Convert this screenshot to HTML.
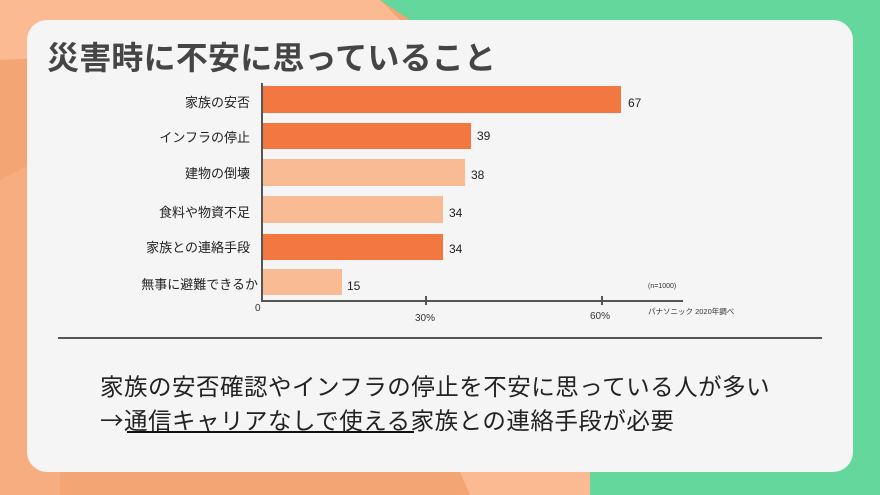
<!DOCTYPE html>
<html><head><meta charset="utf-8"><style>
html,body{margin:0;padding:0}
body{width:880px;height:495px;position:relative;overflow:hidden;font-family:"Liberation Sans","Noto Sans CJK JP",sans-serif;background:#f4a574}
.a{position:absolute;white-space:nowrap}
.lab{position:absolute;right:630px;font-size:13px;color:#222;text-align:right}
.bar{position:absolute;left:263px}
.v{position:absolute;font-size:12px;color:#222}
</style></head><body>
<svg class="a" style="left:0;top:0" width="880" height="495">
<polygon points="0,0 380,0 420,40 0,60" fill="#fbba91"/>
<polygon points="0,180 60,150 60,495 0,495" fill="#f6ad80"/>
<polygon points="380,0 880,0 880,495 590,495 590,470 410,20" fill="#63d79c"/>
<polygon points="460,472 590,472 590,495 470,495" fill="#fbba91"/>
</svg>
<div class="a" style="left:27px;top:20px;width:826px;height:452px;background:#f5f5f5;border-radius:20px"></div>
<div class="a" style="left:47px;top:33px;font-size:32px;letter-spacing:0.2px;font-weight:bold;color:#454545">災害時に不安に思っていること</div>
<div class="a" style="left:261px;top:83px;width:2px;height:219px;background:#555"></div>
<div class="a" style="left:261px;top:300px;width:422px;height:2px;background:#555"></div>
<div class="a" style="left:425px;top:296px;width:2px;height:9px;background:#555"></div>
<div class="a" style="left:601px;top:296px;width:2px;height:9px;background:#555"></div>
<div class="bar" style="top:86px;height:27px;width:358px;background:#f27741"></div>
<div class="bar" style="top:123px;height:26px;width:208px;background:#f27741"></div>
<div class="bar" style="top:159px;height:27px;width:202px;background:#f9bb93"></div>
<div class="bar" style="top:196px;height:27px;width:180px;background:#f9bb93"></div>
<div class="bar" style="top:234px;height:26px;width:180px;background:#f27741"></div>
<div class="bar" style="top:269px;height:26px;width:79px;background:#f9bb93"></div>
<div class="lab" style="top:92px">家族の安否</div>
<div class="lab" style="top:127px">インフラの停止</div>
<div class="lab" style="top:163px">建物の倒壊</div>
<div class="lab" style="top:202px">食料や物資不足</div>
<div class="lab" style="top:237px">家族との連絡手段</div>
<div class="lab" style="top:274px;right:622px">無事に避難できるか</div>
<div class="v" style="left:628px;top:96px">67</div>
<div class="v" style="left:477px;top:129px">39</div>
<div class="v" style="left:471px;top:168px">38</div>
<div class="v" style="left:449px;top:206px">34</div>
<div class="v" style="left:449px;top:242px">34</div>
<div class="v" style="left:347px;top:279px">15</div>
<div class="a" style="left:255px;top:303px;font-size:10px;color:#333">0</div>
<div class="a" style="left:415px;top:313px;font-size:10px;color:#333">30%</div>
<div class="a" style="left:590px;top:311px;font-size:10px;color:#333">60%</div>
<div class="a" style="left:648px;top:283px;font-size:7px;color:#333">(n=1000)</div>
<div class="a" style="left:648px;top:306px;font-size:7.5px;color:#333">パナソニック 2020年調べ</div>
<div class="a" style="left:58px;top:337px;width:764px;height:2px;background:#555"></div>
<div class="a" style="left:100px;top:368px;font-size:23.5px;letter-spacing:0.5px;color:#222">家族の安否確認やインフラの停止を不安に思っている人が多い</div>
<div class="a" style="left:100px;top:402px;font-size:23.5px;letter-spacing:0.5px;color:#222"><span style="font-family:'Noto Sans CJK JP',sans-serif">→</span>通信キャリアなしで使える家族との連絡手段が必要</div>
<div class="a" style="left:127px;top:431px;width:287px;height:1.5px;background:#111"></div>
</body></html>
